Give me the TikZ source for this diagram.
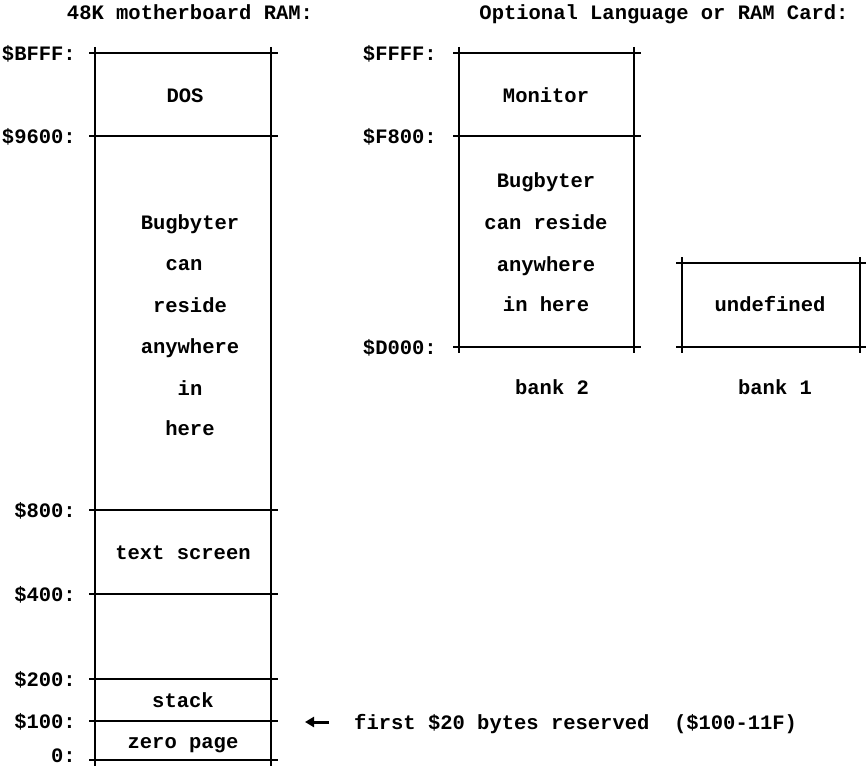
\documentclass[tikz,border=0pt]{standalone}
\usepackage{fontspec}
\setmainfont{Liberation Mono}
\usetikzlibrary{arrows.meta}
\begin{document}
\begin{tikzpicture}[x=1pt,y=-1pt,
  txt/.style={font=\fontsize{20.5}{24}\selectfont\bfseries, inner sep=0pt, anchor=base, yshift=-7pt},
  lbl/.style={txt, anchor=base east},
  ln/.style={line width=1.8pt}]
\useasboundingbox[fill=white] (0,0) rectangle (866,768);
% ---------- titles
\node[txt] (t1) at (190,13) {48K motherboard RAM:};
\node[txt] (t2) at (664,13) {Optional Language or RAM Card:};
% ---------- left column (motherboard)
\draw[ln] (95,47) -- (95,766);
\draw[ln] (271,47) -- (271,766);
\foreach \y in {53,136,510,594,679,721,760} \draw[ln] (89,\y) -- (278,\y);
\node[lbl] (a1) at (76,53) {\$BFFF:};
\node[lbl] (a2) at (76,136) {\$9600:};
\node[lbl] (a3) at (76,510) {\$800:};
\node[lbl] (a4) at (76,594) {\$400:};
\node[lbl] (a5) at (76,679) {\$200:};
\node[lbl] (a6) at (76,721) {\$100:};
\node[lbl] (a7) at (76,755) {0:};
\node[txt] (dos) at (185,95) {DOS};
\node[txt] (l1) at (190,222) {Bugbyter};
\node[txt] (l2) at (184,263) {can};
\node[txt] (l3) at (190,305) {reside};
\node[txt] (l4) at (190,346) {anywhere};
\node[txt] (l5) at (190,388) {in};
\node[txt] (l6) at (190,428) {here};
\node[txt] (ts) at (183,552) {text screen};
\node[txt] (st) at (183,700) {stack};
\node[txt] (zp) at (183,741) {zero page};
% ---------- arrow note
\coordinate (arS) at (329,722);
\coordinate (arE) at (305,722);
\draw[line width=3pt, -{Triangle[length=9pt,width=10pt]}] (arS) -- (arE);
\node[txt, anchor=base west] (note) at (354,722) {first \$20 bytes reserved\ \ (\$100-11F)};
% ---------- bank 2
\draw[ln] (459,47) -- (459,353);
\draw[ln] (634,47) -- (634,353);
\foreach \y in {53,136,347} \draw[ln] (453,\y) -- (641,\y);
\node[lbl] (b1) at (437,53) {\$FFFF:};
\node[lbl] (b2) at (437,136) {\$F800:};
\node[lbl] (b3) at (437,347) {\$D000:};
\node[txt] (mon) at (546,95) {Monitor};
\node[txt] (r1) at (546,180) {Bugbyter};
\node[txt] (r2) at (546,222) {can reside};
\node[txt] (r3) at (546,264) {anywhere};
\node[txt] (r4) at (546,304) {in here};
\node[txt] (bk2) at (552,387) {bank 2};
% ---------- bank 1
\draw[ln] (682,257) -- (682,353);
\draw[ln] (860,257) -- (860,353);
\foreach \y in {263,347} \draw[ln] (676,\y) -- (866,\y);
\node[txt] (und) at (770,304) {undefined};
\node[txt] (bk1) at (775,387) {bank 1};
\end{tikzpicture}
\end{document}
